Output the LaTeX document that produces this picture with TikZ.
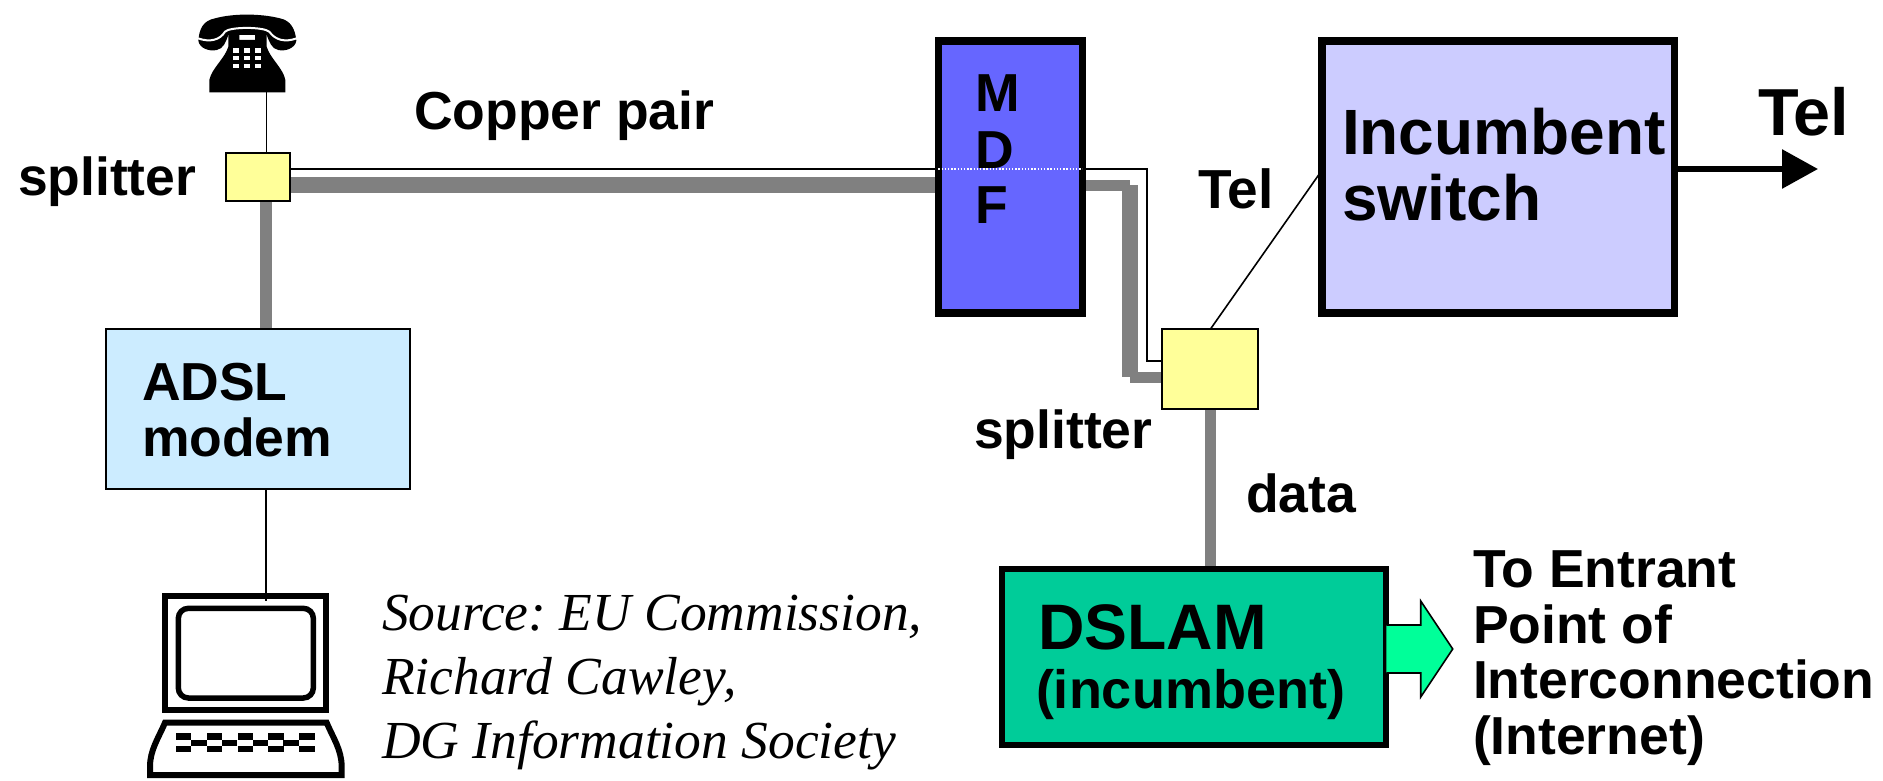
\documentclass[tikz,border=0pt]{standalone}
\usepackage{fontspec}
\setmainfont{Liberation Sans}
\newfontfamily\srcfont{Liberation Serif}
\usetikzlibrary{arrows.meta,backgrounds}
\newcommand{\fsz}[1]{\fontsize{#1}{#1}\selectfont}
\frenchspacing
\tikzset{
  box/.style={draw=black,rectangle,inner sep=0pt,outer sep=0pt},
  txt/.style={inner sep=0pt,outer sep=0pt,anchor=base west,font=\fsz{53.5}\bfseries},
  bigtxt/.style={txt,font=\fsz{64}\bfseries},
  src/.style={inner sep=0pt,outer sep=0pt,anchor=base west,font=\fsz{53.5}\srcfont\itshape},
  thin wire/.style={draw=black,line width=1.6pt},
  copper/.style={draw=gray50,line width=#1},
}
\definecolor{gray50}{HTML}{808080}
\definecolor{adslc}{HTML}{CCECFF}
\definecolor{splitc}{HTML}{FFFF99}
\definecolor{mdfc}{HTML}{6666FF}
\definecolor{swc}{HTML}{CCCCFF}
\definecolor{dslamc}{HTML}{00CC99}
\definecolor{greenc}{HTML}{00FF99}
\begin{document}
\begin{tikzpicture}[x=1pt,y=-1pt]
\useasboundingbox (0,0) rectangle (1883,781);
% boxes
\node[box,fill=splitc,line width=2pt,minimum width=64pt,minimum height=47.6pt] (spa) at (257.5,177) {};
\node[box,fill=adslc,line width=1.8pt,minimum width=304pt,minimum height=160pt] (adsl) at (258.2,409.3) {};
\node[box,fill=mdfc,line width=7.6pt,minimum width=144pt,minimum height=272pt] (mdf) at (1010.3,177) {};
\node[box,fill=splitc,line width=2.2pt,minimum width=96pt,minimum height=80pt] (spb) at (1210.3,369.3) {};
\node[box,fill=swc,line width=7.7pt,minimum width=352.3pt,minimum height=271.6pt] (sw) at (1498.3,177) {};
\node[box,fill=dslamc,line width=6pt,minimum width=384pt,minimum height=176.3pt] (dslam) at (1194.3,657.2) {};
% free coordinates
\coordinate (phonefoot) at (266.3,92);
\coordinate (wirelevel) at (0,169);
\coordinate (bendA) at (1146.7,169);
\coordinate (bendB) at (1146.7,361);
\coordinate (swjoin) at (1320,173);
\coordinate (laptoptop) at (266,601);
\coordinate (telTip) at (1818,169);
\coordinate (cuA) at (1130.3,185.5);
\coordinate (cuB) at (1130.3,377);
\begin{scope}[on background layer]
  \draw[copper=16pt] (spa.east |- 0,185.3) -- (mdf.west |- 0,185.3);
  \draw[copper=11pt] (mdf.east |- cuA) -- (cuA);
  \draw[copper=16pt] (cuA) -- (cuB);
  \draw[copper=11pt] (cuB) -- (spb.west |- cuB);
  \draw[copper=12pt] (spa.south -| phonefoot) -- (adsl.north -| phonefoot);
  \draw[copper=11.5pt] (spb.south) -- (dslam.north -| spb.south);
  \draw[thin wire] (spa.east |- wirelevel) -- (bendA) -- (bendB) -- (spb.west |- bendB);
  \draw[thin wire] (phonefoot) -- (spa.north -| phonefoot);
  \draw[thin wire] (spb.north) -- (swjoin);
\end{scope}
% white dotted trace of the wire over the MDF
\draw[white,line width=1.1pt,dash pattern=on 1.5pt off 1.7pt] (mdf.west |- wirelevel) -- (mdf.east |- wirelevel);
% Tel arrow
\draw[line width=6pt,-{Triangle[length=36pt,width=38pt]}] (sw.east |- telTip) -- (telTip);
% green arrow
\draw[fill=greenc,draw=black,line width=1.6pt,line join=miter]
  (dslam.east |- 0,625) -- (1420.7,625) -- (1420.7,601) -- (1452.7,649) -- (1420.7,697) -- (1420.7,673) -- (dslam.east |- 0,673);
% telephone
\begin{scope}[shift={(170,0)},x=0.33333pt,y=-0.33333pt]
  \fill[black] (85,122) .. controls (88,85) and (100,62) .. (135,55) .. controls (190,40) and (270,40) .. (330,55) .. controls (362,62) and (375,85) .. (379,122)
     .. controls (376,145) and (345,155) .. (325,150) .. controls (305,147) and (298,125) .. (290,105) -- (175,105) .. controls (168,125) and (160,147) .. (140,150) .. controls (118,155) and (88,145) .. (85,122) -- cycle;
  \fill[black] (118,277) -- (346,277) -- (346,240) .. controls (340,205) and (300,175) .. (290,140) -- (290,100) -- (255,100) -- (255,120) -- (208,120) -- (208,100) -- (175,100) -- (175,140) .. controls (165,175) and (125,205) .. (118,240) -- cycle;
  \draw[white,line width=2pt] (84,115) .. controls (120,128) and (150,120) .. (165,95) .. controls (180,80) and (280,80) .. (298,95) .. controls (315,120) and (345,128) .. (380,115);
  \foreach \kx in {190,222,254}
    \foreach \ky in {145,168,192}
      \fill[white] (\kx,\ky) rectangle ++(18,13);
\end{scope}
% laptop
\begin{scope}[shift={(130,580)},x=0.33333pt,y=-0.33333pt]
  \draw[line width=6pt] (106,49) rectangle (588,391);
  \draw[line width=5.5pt,rounded corners=10pt] (145,85) rectangle (550,354);
  \draw[line width=6pt,line join=miter] (105,428) -- (590,428) .. controls (610,475) and (635,510) .. (635,560) -- (635,585) -- (60,585) -- (60,560) .. controls (60,510) and (85,475) .. (105,428) -- cycle;
  \foreach \kx in {137,230,323,415,508} {
    \fill (\kx,460) rectangle ++(46,20);
    \fill (\kx,497) rectangle ++(46,20);
  }
  \foreach \kx in {183,275,368,460}
    \fill (\kx,480) rectangle ++(47,17);
\end{scope}
\draw[thin wire] (adsl.south -| laptoptop) -- (laptoptop);
% texts
\node[txt] (tspa) at (18,195) {splitter};
\node[txt] (tcop) at (414,130) {Copper pair};
\node[txt] (tm) at (975,112) {M};
\node[txt] (td) at (975,168) {D};
\node[txt] (tf) at (975,223) {F};
\node[txt,font=\fsz{55}\bfseries] (ttel) at (1198,208) {Tel};
\node[bigtxt] (tinc) at (1342,154.5) {Incumbent};
\node[bigtxt] (tswi) at (1342,220.7) {switch};
\node[bigtxt,font=\fsz{66.5}\bfseries] (ttel2) at (1758,136) {Tel};
\node[txt] (tad) at (142,400) {ADSL};
\node[txt] (tmo) at (142,456) {modem};
\node[txt] (tspb) at (974,448) {splitter};
\node[txt] (tdata) at (1246,512) {data};
\node[bigtxt,font=\fsz{64.3}\bfseries] (tds) at (1038,649.5) {DSLAM};
\node[txt,font=\fsz{54}\bfseries] (tinb) at (1036,708) {(incumbent)};
\node[txt] (tl1) at (1473,587) {To Entrant};
\node[txt] (tl2) at (1473,643) {Point of};
\node[txt] (tl3) at (1473,698.5) {Interconnection};
\node[txt] (tl4) at (1473,754) {(Internet)};
\node[src] (ts1) at (382,630) {Source: EU Commission,};
\node[src] (ts2) at (382,694) {Richard Cawley,};
\node[src] (ts3) at (382,758) {DG Information Society};
\end{tikzpicture}
\end{document}
